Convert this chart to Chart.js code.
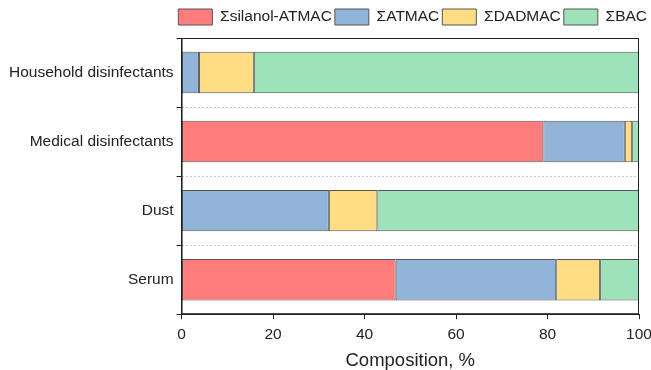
<!DOCTYPE html>
<html>
<head>
<meta charset="utf-8">
<title>Composition</title>
<script src="https://cdn.jsdelivr.net/npm/chart.js@4.4.0/dist/chart.umd.min.js"></script>
<style>
  body { margin: 0; background: #fff; }
  #wrap { width: 651px; height: 370px; }
</style>
</head>
<body>
<div id="wrap"><canvas id="chart" width="651" height="370"></canvas></div>
<script>
const categories = ['Household disinfectants', 'Medical disinfectants', 'Dust', 'Serum'];
const silanolAtmac = [0, 79.1, 0, 46.8];
const atmac = [3.8, 17.8, 32.2, 35.1];
const dadmac = [12.0, 1.6, 10.6, 9.6];
const bac = [84.2, 1.5, 57.2, 8.5];
const xTicks = [0, 20, 40, 60, 80, 100];

const FONT = 'Liberation Sans, Arial';

// frame around the plot area
const frame = {
  id: 'frame',
  afterDraw(chart) {
    const a = chart.chartArea, c = chart.ctx;
    c.save();
    c.strokeStyle = '#222';
    c.lineWidth = 1;
    c.strokeRect(a.left + 0.5, a.top + 0.5, a.right - a.left - 1, a.bottom - a.top - 1);
    c.restore();
  }
};

// a little room under the legend
const legendGap = {
  id: 'legendGap',
  beforeInit(chart) {
    const fit = chart.legend.fit;
    chart.legend.fit = function () {
      fit.bind(chart.legend)();
      this.height += 3;
    };
  }
};

function ds(label, data, color) {
  return {
    label: label,
    data: data,
    backgroundColor: color,
    borderColor: '#555',
    borderWidth: 1,
    borderSkipped: false,
    barPercentage: 0.6,
    categoryPercentage: 1
  };
}

new Chart(document.getElementById('chart'), {
  type: 'bar',
  data: {
    labels: categories,
    datasets: [
      ds('Σsilanol-ATMAC', silanolAtmac, '#FF7C7C'),
      ds('ΣATMAC', atmac, '#92B4D8'),
      ds('ΣDADMAC', dadmac, '#FEDD85'),
      ds('ΣBAC', bac, '#9DE2B8')
    ]
  },
  options: {
    indexAxis: 'y',
    responsive: false,
    animation: false,
    layout: { padding: { left: 6, right: 1, top: 6, bottom: -2 } },
    plugins: {
      tooltip: { enabled: false },
      legend: {
        position: 'top',
        align: 'end',
        labels: {
          boxWidth: 34,
          boxHeight: 16,
          padding: 3,
          color: '#222',
          font: { family: FONT, size: 15.5 }
        }
      }
    },
    scales: {
      x: {
        stacked: true,
        min: 0,
        max: 100,
        afterBuildTicks: axis => { axis.ticks = xTicks.map(v => ({ value: v })); },
        afterFit: s => { s.paddingRight = 12; },
        border: { color: '#222', width: 1 },
        grid: { drawOnChartArea: false, tickLength: 5, tickColor: '#222' },
        ticks: { color: '#222', padding: 6, font: { family: FONT, size: 15.5 } },
        title: {
          display: true,
          text: 'Composition, %',
          color: '#222',
          padding: { top: 0, bottom: 0 },
          font: { family: FONT, size: 18.5 }
        }
      },
      y: {
        stacked: true,
        border: { color: '#222', width: 1, dash: [2, 2] },
        grid: {
          offset: true,
          color: '#c8c8c8',
          tickLength: 5,
          tickColor: '#222',
          tickBorderDash: []
        },
        ticks: { color: '#222', padding: 3, font: { family: FONT, size: 15.5 } }
      }
    }
  },
  plugins: [frame, legendGap]
});
</script>
</body>
</html>
